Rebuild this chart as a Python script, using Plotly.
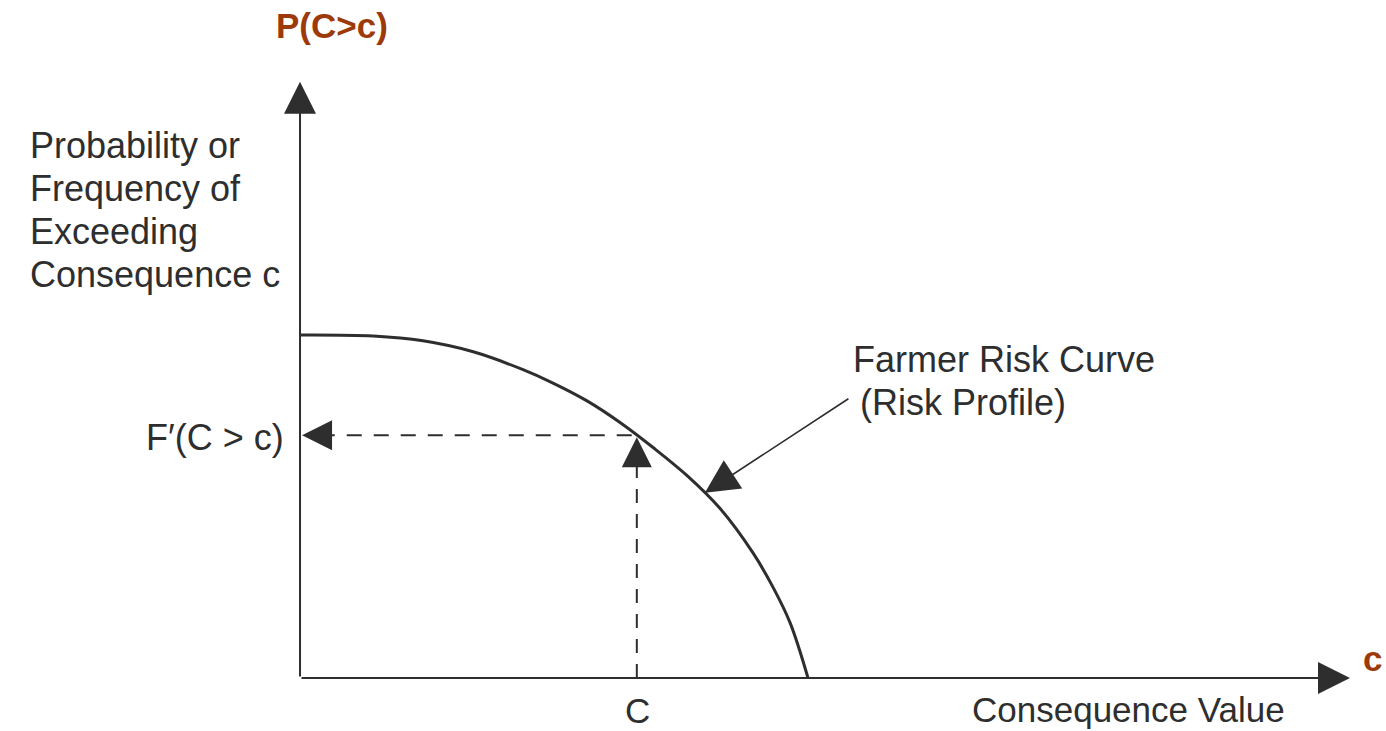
import plotly.graph_objects as go

# Farmer risk curve (exceedance probability vs consequence), normalised units
consequence = [0.0, 0.144, 0.242, 0.341, 0.439, 0.498, 0.565, 0.630, 0.695, 0.762, 0.827, 0.892, 0.931, 0.965, 1.0]
exceedance = [1.0, 0.997, 0.983, 0.951, 0.899, 0.860, 0.808, 0.745, 0.672, 0.590, 0.494, 0.364, 0.265, 0.160, 0.0]

c_mark = 0.663      # chosen consequence C
f_mark = 0.708      # F'(C > c)
x_axis_end = 2.067
y_axis_end = 1.738

W, H = 1386, 731
ink = '#2e2e2e'
brown = '#9c3a0a'
font = 'Liberation Sans, Arial, sans-serif'


def at(px, py):
    return dict(x=px / W, y=1 - py / H, xref='paper', yref='paper')


fig = go.Figure(layout=dict(
    width=W, height=H,
    margin=dict(l=0, r=0, t=0, b=0),
    paper_bgcolor='white', plot_bgcolor='white',
    showlegend=False,
    xaxis=dict(range=[-0.5906, 2.1378], visible=False, fixedrange=True),
    yaxis=dict(range=[-0.1545, 1.9767], visible=False, fixedrange=True),
    font=dict(family=font, color=ink),
))

# risk curve
fig.add_trace(go.Scatter(
    x=consequence, y=exceedance, mode='lines',
    line=dict(color=ink, width=3, shape='spline', smoothing=1.0),
    hoverinfo='skip'
))

# dashed guide lines
fig.add_trace(go.Scatter(
    x=[c_mark, c_mark], y=[0, f_mark - 0.06], mode='lines',
    line=dict(color=ink, width=2, dash='14px,11px'), hoverinfo='skip'
))
fig.add_trace(go.Scatter(
    x=[c_mark - 0.01, 0.05], y=[f_mark, f_mark], mode='lines',
    line=dict(color=ink, width=2, dash='15px,12px'), hoverinfo='skip'
))

arrows = [
    # axes
    dict(x=0, y=y_axis_end, ax=0, ay=0, axref='x', ayref='y',
         arrowwidth=2, arrowsize=3.2),
    dict(x=x_axis_end, y=0, ax=0, ay=0, axref='x', ayref='y',
         arrowwidth=2, arrowsize=3.2),
    # dashed arrow heads
    dict(x=0.004, y=f_mark, ax=28, ay=0, arrowwidth=2, arrowsize=3),
    dict(x=c_mark, y=f_mark - 0.006, ax=0, ay=28, arrowwidth=2, arrowsize=3),
    # leader to curve
    dict(x=0.797, y=0.540, ax=145, ay=-95, arrowwidth=1.6, arrowsize=4.2),
]
for a in arrows:
    fig.add_annotation(text='', showarrow=True, arrowhead=2,
                       arrowcolor=ink, xref='x', yref='y', **a)

labels = [
    ('Probability or', 28, 145, 'left', 36, ink, False),
    ('Frequency of', 28, 188, 'left', 36, ink, False),
    ('Exceeding', 28, 231, 'left', 36, ink, False),
    ('Consequence c', 28, 274, 'left', 36, ink, False),
    ("F\u2032(C > c)", 286, 437, 'right', 36, ink, False),
    ('Farmer Risk Curve', 851, 359, 'left', 36, ink, False),
    ('(Risk Profile)', 858, 402, 'left', 36, ink, False),
    ('C', 637, 710, 'center', 35, ink, False),
    ('Consequence Value', 1128, 709, 'center', 35, ink, False),
    ('P(C>c)', 332, 25, 'center', 35, brown, True),
    ('c', 1384, 658, 'right', 35, brown, True),
]
for text, px, py, anchor, size, color, bold in labels:
    fig.add_annotation(
        text=text, showarrow=False, xanchor=anchor, yanchor='middle',
        align=anchor if anchor != 'center' else 'center',
        font=dict(size=size, color=color, family=font,
                  weight='bold' if bold else 'normal'),
        **at(px, py)
    )

fig.write_html('out.html', config={'displayModeBar': False},
               post_script="document.body.style.margin='0';document.body.style.overflow='hidden';")
